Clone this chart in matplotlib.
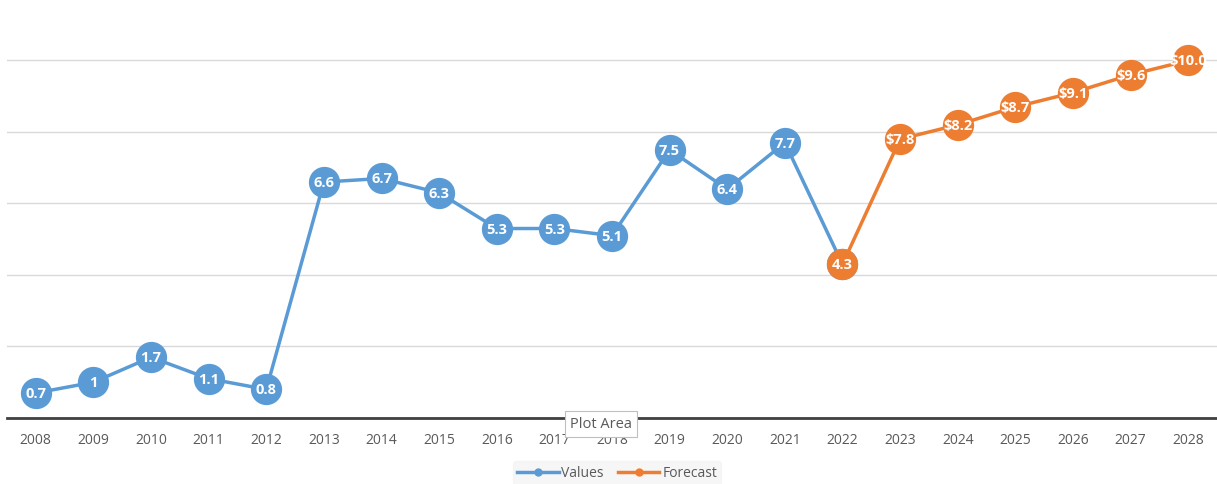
import matplotlib.pyplot as plt
from matplotlib.lines import Line2D

plt.rcParams['font.family'] = ['Open Sans', 'DejaVu Sans']

years = list(range(2008, 2029))
value_years = list(range(2008, 2023))
values = [0.7, 1, 1.7, 1.1, 0.8, 6.6, 6.7, 6.3, 5.3, 5.3, 5.1, 7.5, 6.4, 7.7, 4.3]
forecast_years = list(range(2022, 2029))
forecast = [4.3, 7.8, 8.2, 8.7, 9.1, 9.6, 10.0]

blue = "#5B9BD5"
orange = "#ED7D31"

fig = plt.figure(figsize=(12.17, 4.85), dpi=100)
ax = fig.add_axes([7 / 1217, 66 / 485, 1210 / 1217, 419 / 485])

x_val = [years.index(y) for y in value_years]
x_fc = [years.index(y) for y in forecast_years]

ax.plot(x_val, values, color=blue, lw=2.5, marker="o", ms=21.5, zorder=3, clip_on=False)
ax.plot(x_fc, forecast, color=orange, lw=2.5, marker="o", ms=21.5, zorder=4, clip_on=False)

for x, v in zip(x_val, values):
    ax.text(x, v, f"{v:g}", color="white", fontsize=10.5, fontweight="bold",
            ha="center", va="center", zorder=6)
for x, v in zip(x_fc[1:], forecast[1:]):
    ax.text(x, v, f"${v:.1f}", color="white", fontsize=10.5, fontweight="bold",
            ha="center", va="center", zorder=6)

ax.set_xlim(-0.5, len(years) - 0.5)
ax.set_ylim(0, 11.72)
ax.set_yticks([2, 4, 6, 8, 10])
ax.yaxis.grid(True, color="#d9d9d9", lw=1)
ax.set_axisbelow(True)
ax.tick_params(axis="y", left=False, labelleft=False)
ax.set_xticks(range(len(years)))
ax.set_xticklabels([str(y) for y in years], fontsize=10, color="#595959")
ax.tick_params(axis="x", length=0, pad=10)
for s in ["top", "right", "left"]:
    ax.spines[s].set_visible(False)
ax.spines["bottom"].set_color("#404040")
ax.spines["bottom"].set_linewidth(2)

handles = [Line2D([], [], color=blue, lw=2.5, marker="o", ms=5),
           Line2D([], [], color=orange, lw=2.5, marker="o", ms=5)]
leg = fig.legend(handles, ["Values", "Forecast"], loc="center", bbox_to_anchor=(617 / 1217, 11 / 485),
                 ncol=2, frameon=True, fontsize=10, handlelength=3, columnspacing=1.0,
                 handletextpad=0.2, borderpad=0.3)
leg.get_frame().set_facecolor("#f4f4f4")
leg.get_frame().set_edgecolor("#f4f4f4")
for t in leg.get_texts():
    t.set_color("#595959")

fig.text(601 / 1217, 1 - 425 / 485, "Plot Area", fontsize=10.5, color="#595959", ha="center", va="center",
         zorder=10, bbox=dict(boxstyle="square,pad=0.35", fc="white", ec="#bfbfbf", lw=0.8))

fig.savefig("out.png", dpi=100)
